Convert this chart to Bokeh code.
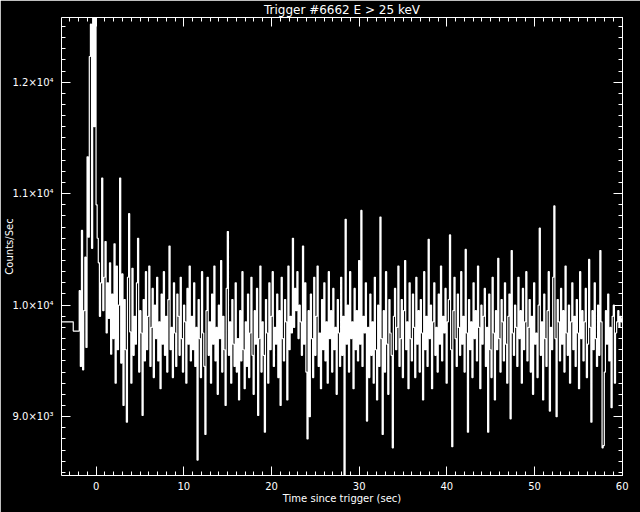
from bokeh.plotting import figure
from bokeh.models import Range1d, LinearAxis, SingleIntervalTicker, CustomLabelingPolicy
from bokeh.embed import file_html
from bokeh.resources import INLINE

title_text = "Trigger #6662 E > 25 keV"
x_label = "Time since trigger (sec)"
y_label = "Counts/Sec"

# coarse pre-trigger bins (left edges, rates)
pre_edges = [-3.96, -2.62]
pre_rates = [9850, 9767]

# fine bins after -1.94 s, 0.128 s wide
fine_start = -1.94
fine_width = 0.128
fine_rates = [
    10130, 9450, 10670, 9420, 9950, 10430, 9620, 11330, 10610, 12230,
    12520, 10510, 13000, 11600, 13000, 10900, 10600, 10380, 9900, 10200,
    11140, 9950, 10250, 10570, 9750, 10200, 9880, 10380, 9560, 10100,
    9700, 10550, 9300, 10350, 9600, 10000, 11140, 9480, 10280, 9100,
    10050, 9600, 8950, 10250, 10820, 9760, 9300, 10330, 9550, 9900,
    9650, 10200, 10600, 9400, 9950, 9750, 9010, 10050, 9500, 10300,
    9600, 9900, 10350, 9450, 9800, 10150, 9350, 10000, 9700, 10250,
    9500, 9850, 9250, 10100, 9650, 10300, 9550, 9900, 9400, 10050,
    10530, 9600, 9800, 9350, 10200, 9750, 9450, 10100, 9900, 9550,
    10250, 9700, 9400, 10000, 9850, 9300, 10150, 9650, 10350, 9500,
    9900, 9600, 10200, 9450, 9800, 8610, 10050, 9700, 9350, 10300,
    9750, 9450, 8840, 9950, 10250, 9550, 9850, 9300, 10100, 9650,
    10350, 9500, 9800, 9200, 10000, 9700, 10400, 9400, 9900, 9600,
    9100, 10150, 10660, 9550, 9850, 9300, 10050, 9650, 9450, 10200,
    9400, 9700, 9150, 9950, 9500, 10300, 9600, 9250, 9850, 9450,
    10100, 9350, 9750, 10250, 9550, 9200, 9950, 9650, 10150, 9010,
    9700, 10350, 9400, 9850, 9550, 8860, 10050, 9750, 9300, 10200,
    9600, 9900, 10300, 9450, 9800, 9650, 10100, 9350, 9950, 9100,
    10250, 9700, 9500, 10050, 9850, 9150, 10350, 9600, 9900, 9750,
    10600, 9800, 10150, 9950, 10300, 9700, 10000, 9850, 9550, 10530,
    9650, 10200, 9400, 8800, 9950, 9000, 10100, 9700, 9350, 10250,
    9550, 9900, 10350, 9450, 9750, 9250, 10050, 9600, 10200, 9500,
    9850, 9300, 10300, 9700, 9950, 9400, 10150, 9600, 9800, 9200,
    10050, 9750, 9450, 10250, 9550, 9900, 8300, 10770, 9650, 10000,
    9400, 10300, 9700, 9850, 9250, 10150, 9600, 9950, 9500, 10400,
    9650, 10850, 9450, 9900, 9750, 10200, 8960, 9800, 9350, 10100,
    9550, 9850, 9300, 10250, 9600, 9150, 10000, 9450, 10790, 9700,
    8840, 9950, 9400, 10300, 9650, 9200, 10050, 9750, 9550, 8720,
    9900, 10150, 9600, 9800, 10350, 9450, 9700, 10050, 9350, 9950,
    10400, 9600, 9850, 9250, 10200, 9700, 9500, 10100, 9800, 9350,
    10250, 9650, 9950, 9400, 10050, 9750, 9150, 10300, 9600, 9900,
    9450, 10590, 9700, 10000, 9250, 9850, 10200, 9550, 9800, 9400,
    10100, 9650, 10350, 9500, 9900, 9750, 10150, 9300, 9850, 10050,
    10630, 9600, 8730, 9950, 10250, 9700, 9450, 10100, 9800, 9550,
    10300, 9650, 9900, 9400, 10500, 9750, 8860, 10050, 9600, 9850,
    9350, 10200, 9700, 9950, 9500, 10350, 9800, 9250, 10000, 9650,
    9900, 10150, 9450, 9800, 8860, 10100, 9600, 9350, 10250, 9750,
    9150, 9950, 9600, 10420, 9700, 9400, 10050, 9850, 9500, 10200,
    9650, 9300, 9900, 10100, 8980, 10490, 9750, 9550, 10000, 9800,
    9450, 10250, 9700, 9950, 9300, 10150, 9600, 9850, 10300, 9500,
    9800, 10050, 9400, 9900, 9200, 10200, 9650, 9750, 9350, 10000,
    10690, 9550, 9850, 9150, 10100, 9700, 9450, 9950, 10300, 9050,
    9800, 9600, 10250, 10890, 9700, 9000, 10050, 9850, 9500, 10150,
    9650, 9950, 9400, 10350, 9750, 9550, 10000, 9300, 9850, 10200,
    9600, 9900, 9450, 10050, 9750, 9250, 10300, 9700, 9950, 9500,
    9850, 10150, 9350, 9650, 10410, 9800, 8950, 9950, 9600, 10200,
    9700, 9450, 10000, 9550, 10490, 9850, 8720, 8740, 9400, 9950,
    9650, 10100, 9500, 9800, 9080, 9900, 10000, 9300, 9750, 9850,
    9950, 9800, 9900, 9850, 9880,
]

x_start, x_end = -3.96, 60.04
y_start, y_end = 8472, 12580

y_tick_values = [9000, 10000, 11000, 12000]
y_tick_labels = ["9.0×10³", "1.0×10⁴", "1.1×10⁴", "1.2×10⁴"]

edges = pre_edges + [fine_start + fine_width * i for i in range(len(fine_rates))]
xs = edges + [edges[-1] + fine_width]
rates = pre_rates + fine_rates
ys = rates + [rates[-1]]

FONT = "DejaVu Sans"
FRAME_L, FRAME_T, FRAME_W, FRAME_H = 61, 17, 561, 458

p = figure(width=640, height=512,
           x_range=Range1d(x_start, x_end), y_range=Range1d(y_start, y_end),
           output_backend="svg", toolbar_location=None,
           background_fill_color="black", border_fill_color="black",
           min_border_left=FRAME_L, min_border_top=FRAME_T,
           min_border_right=640 - FRAME_L - FRAME_W,
           min_border_bottom=512 - FRAME_T - FRAME_H)
p.outline_line_color = None
p.xgrid.visible = False
p.ygrid.visible = False

p.title.text = title_text
p.title.align = "center"
p.title.text_color = "white"
p.title.text_font = FONT
p.title.text_font_size = "12px"
p.title.text_font_style = "normal"
p.title.standoff = 1
p.title.offset = 0

p.step(xs, ys, mode="after", line_color="white", line_width=1.2)

hide_all = "for (const i of indices) indices.unset(i)"


def style_axis(ax, show_labels):
    ax.axis_line_color = "white"
    ax.axis_line_width = 1
    ax.major_tick_line_color = "white"
    ax.minor_tick_line_color = "white"
    ax.major_tick_in = 9
    ax.major_tick_out = 0
    ax.minor_tick_in = 4
    ax.minor_tick_out = 0
    ax.major_label_text_color = "white"
    ax.major_label_text_font = FONT
    ax.major_label_text_font_size = "10px"
    ax.axis_label_text_color = "white"
    ax.axis_label_text_font = FONT
    ax.axis_label_text_font_style = "normal"
    ax.axis_label_text_font_size = "10px"
    ax.axis_label_standoff = 0
    if not show_labels:
        ax.major_label_standoff = 0
        ax.major_label_text_font_size = "0px"
        ax.major_label_policy = CustomLabelingPolicy(code=hide_all)


xb = p.xaxis[0]
xb.ticker = SingleIntervalTicker(interval=10, num_minor_ticks=10)
style_axis(xb, True)
xb.major_label_standoff = 6
xb.axis_label = x_label

yl = p.yaxis[0]
yl.ticker = SingleIntervalTicker(interval=1000, num_minor_ticks=10)
style_axis(yl, True)
yl.major_label_standoff = 8
yl.axis_label_standoff = -6
yl.major_label_overrides = {v: s for v, s in zip(y_tick_values, y_tick_labels)}
yl.axis_label = y_label

xt = LinearAxis(ticker=SingleIntervalTicker(interval=10, num_minor_ticks=10))
style_axis(xt, False)
p.add_layout(xt, "above")

yr = LinearAxis(ticker=SingleIntervalTicker(interval=1000, num_minor_ticks=10))
style_axis(yr, False)
p.add_layout(yr, "right")

open("out.html", "w").write(file_html(p, INLINE))
